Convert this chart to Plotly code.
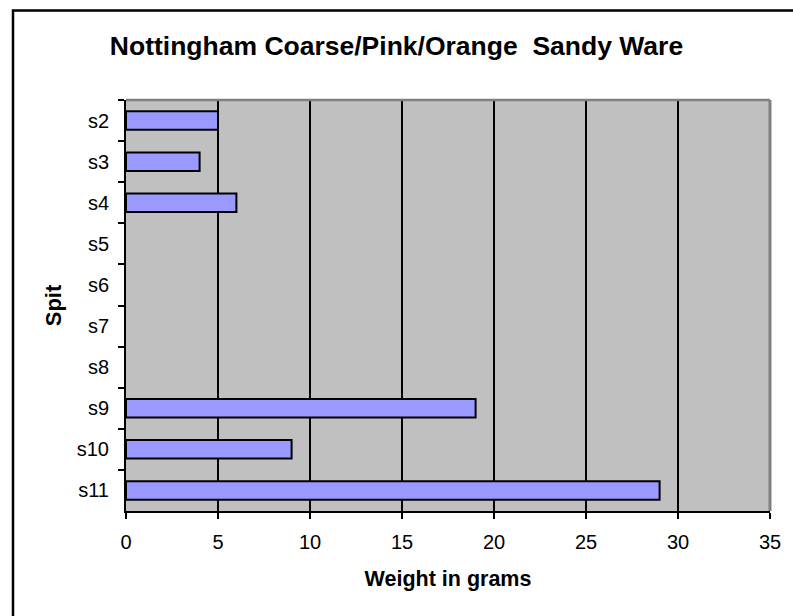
import plotly.graph_objects as go

# Spit categories and recorded sherd weights (grams)
spits = ["s2", "s3", "s4", "s5", "s6", "s7", "s8", "s9", "s10", "s11"]
weights = [5, 4, 6, None, None, None, None, 19, 9, 29]
x_ticks = [0, 5, 10, 15, 20, 25, 30, 35]

W, H = 793, 616
L, R, T, B = 126, 23, 100, 105
pw, ph = W - L - R, H - T - B

def px_to_paper_x(px):
    return (px - L) / pw

def px_to_paper_y(py):
    return (H - B - py) / ph

font = "Liberation Sans, Arial, Helvetica, sans-serif"

fig = go.Figure(
    go.Bar(
        x=weights,
        y=spits,
        orientation="h",
        marker=dict(color="#9999FF", line=dict(color="black", width=2)),
        width=0.45,
    )
)

fig.update_layout(
    width=W,
    height=H,
    margin=dict(l=L, r=R, t=T, b=B, pad=0),
    paper_bgcolor="white",
    plot_bgcolor="#C0C0C0",
    showlegend=False,
    title=dict(
        text="<b>Nottingham Coarse/Pink/Orange  Sandy Ware</b>",
        x=0.5,
        xanchor="center",
        xref="container",
        y=1 - 46 / H,
        yanchor="middle",
        yref="container",
        font=dict(family=font, size=26.5, color="black"),
    ),
    font=dict(family=font, color="black"),
)

fig.update_xaxes(
    range=[0, 35],
    tickvals=x_ticks,
    ticks="outside",
    ticklen=6,
    tickwidth=1.5,
    tickcolor="black",
    tickfont=dict(size=20, color="black"),
    ticklabelstandoff=6,
    showgrid=True,
    gridcolor="black",
    gridwidth=1.5,
    zeroline=False,
    showline=True,
    linecolor="black",
    linewidth=2,
    title=dict(
        text="<b>Weight in grams</b>",
        font=dict(size=21.5, color="black"),
        standoff=19,
    ),
)

fig.update_yaxes(
    categoryorder="array",
    categoryarray=spits,
    autorange="reversed",
    tickson="boundaries",
    ticks="outside",
    ticklen=6,
    tickwidth=1.5,
    tickcolor="black",
    tickfont=dict(size=20, color="black"),
    ticklabelstandoff=11,
    showgrid=False,
    zeroline=False,
    showline=True,
    linecolor="black",
    linewidth=2,
    title=dict(
        text="<b>Spit</b>",
        font=dict(size=22, color="black"),
        standoff=9,
    ),
)

# gray frame on the top and right edges of the plotting area
fig.add_shape(
    type="line", xref="paper", yref="paper",
    x0=0, x1=1, y0=1, y1=1,
    line=dict(color="#808080", width=2.5), layer="above",
)
fig.add_shape(
    type="line", xref="paper", yref="paper",
    x0=1, x1=1, y0=0, y1=1,
    line=dict(color="#808080", width=3), layer="above",
)

# outer chart border
fig.add_shape(
    type="rect", xref="paper", yref="paper",
    x0=px_to_paper_x(13), x1=px_to_paper_x(W + 20),
    y0=px_to_paper_y(H + 20), y1=px_to_paper_y(10.5),
    line=dict(color="black", width=2.5), fillcolor="rgba(0,0,0,0)",
    layer="above",
)

fig.write_html("out.html")
